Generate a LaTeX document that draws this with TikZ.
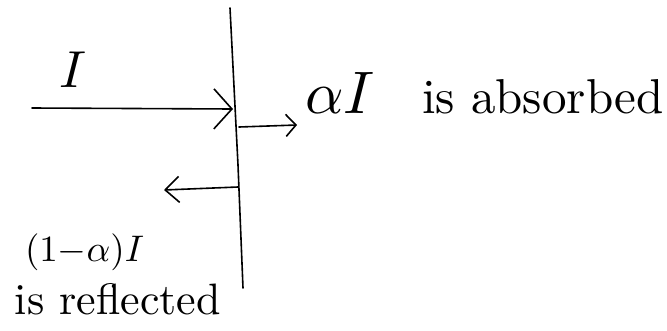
\documentclass[tikz,border=0pt]{standalone}
\usepackage{graphicx}
\usetikzlibrary{arrows.meta}
\begin{document}
\begin{tikzpicture}[x=1pt,y=-1pt,line width=1.6pt,line cap=round,
  bigbarb/.style={-{Straight Barb[length=18pt,width=40pt,line width=1.6pt]}},
  smallbarb/.style={-{Straight Barb[length=10pt,width=22pt,line width=1.6pt]}},
  midbarb/.style={-{Straight Barb[length=14pt,width=26pt,line width=1.6pt]}},
  lbl/.style={inner sep=0pt,outer sep=0pt}]
\useasboundingbox (0,0) rectangle (667,330);
% wall
\coordinate (wtop) at (230,8);
\coordinate (wmid) at (238,165);
\coordinate (wbot) at (243,288);
\draw (wtop) -- (wmid) -- (wbot);
% arrows
\coordinate (inS) at (32,108);
\coordinate (inE) at (233,109);
\coordinate (abS) at (239,127);
\coordinate (abE) at (297,125);
\coordinate (reS) at (238,187);
\coordinate (reE) at (164,190);
\draw[bigbarb] (inS) -- (inE);
\draw[smallbarb] (abS) -- (abE);
\draw[midbarb] (reS) -- (reE);
% labels
\node[lbl,anchor=base] (lI) at (73,87) {\scalebox{5.2}{$I$}};
\node[lbl,anchor=base west] (laI) at (305,113) {\scalebox{6}{$\alpha I$}};
\node[lbl,anchor=base west] (labs) at (422,113) {\scalebox{4.9}{is absorbed}};
\node[lbl,anchor=base west] (lref) at (25,261) {\scalebox{3.7}{$(1{-}\alpha)I$}};
\node[lbl,anchor=base west] (lrefl) at (15,314) {\scalebox{4.4}{is reflected}};
\end{tikzpicture}
\end{document}
